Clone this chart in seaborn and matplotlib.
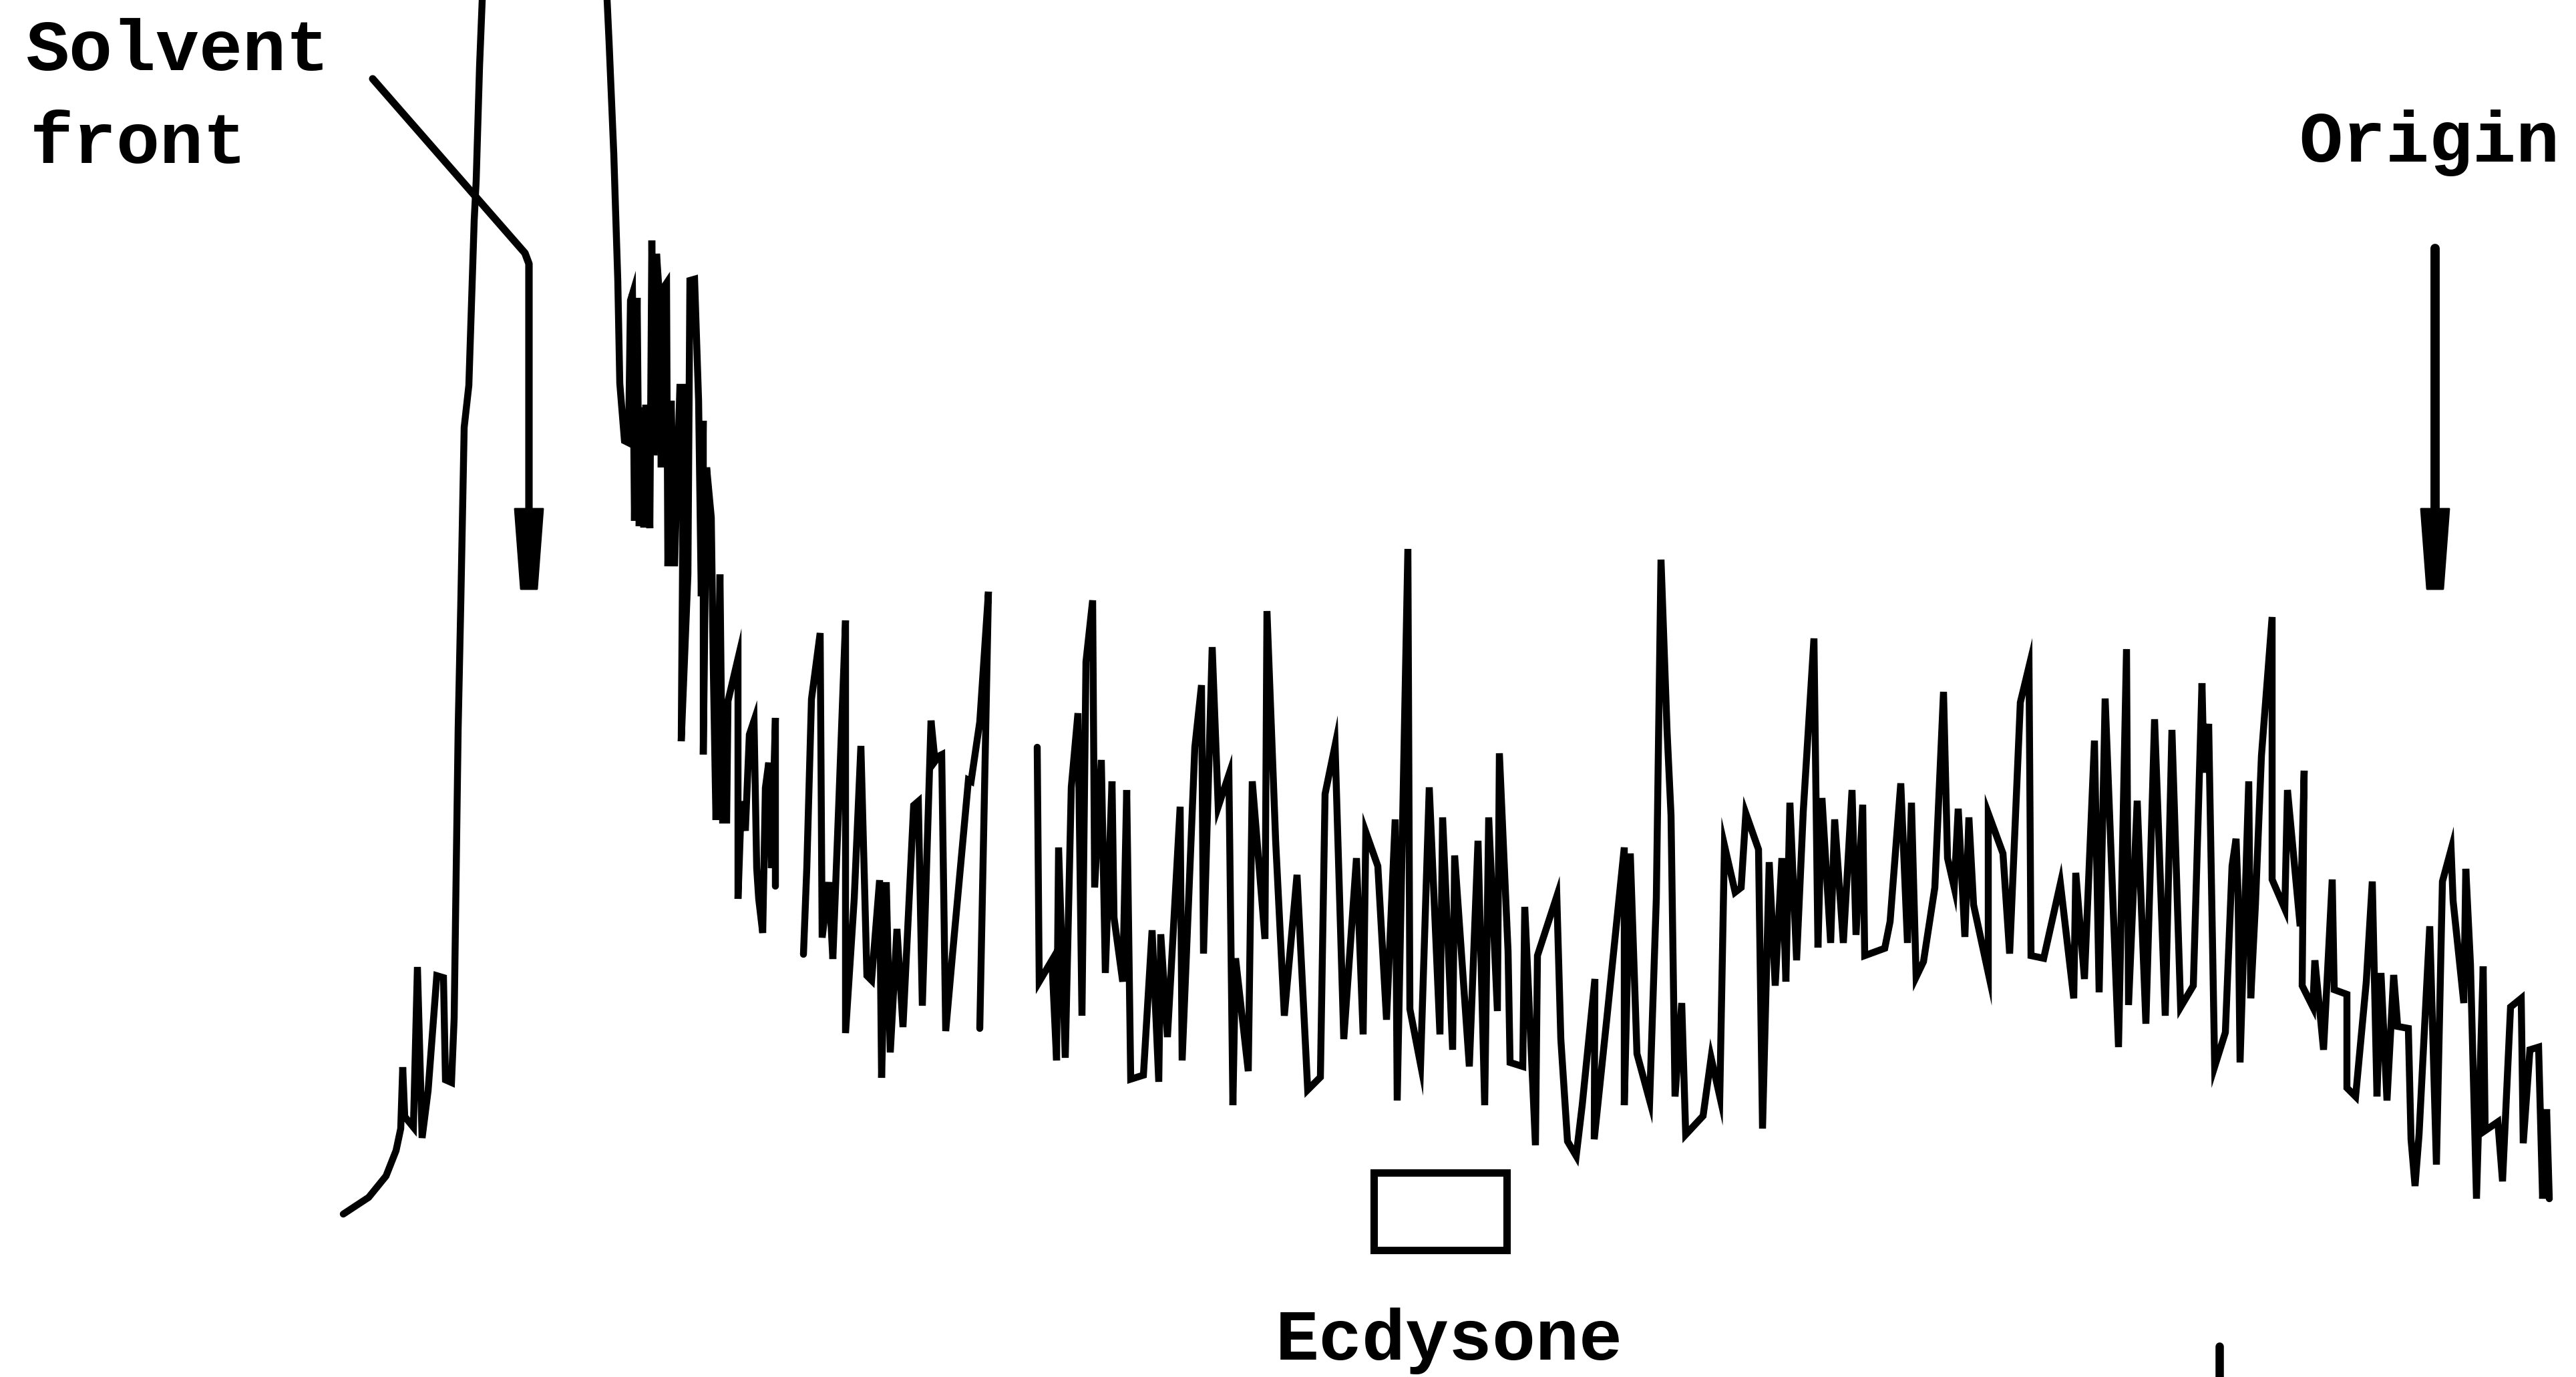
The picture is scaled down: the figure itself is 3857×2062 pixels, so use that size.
import numpy as np
import pandas as pd
import matplotlib
matplotlib.use("Agg")
import matplotlib.pyplot as plt
from matplotlib.patches import Polygon, Rectangle
import seaborn as sns

# Radio-scan of the chromatogram strip: position along the strip and pen
# deflection measured down from the top edge of the chart paper.
seg1_pos = [514, 552, 578, 593, 600, 603, 606, 619, 625, 632, 641, 654, 664, 667, 676, 680,
            686, 690, 695, 702, 710, 713, 718, 722, 816, 909, 912, 919, 925, 928, 935, 941,
            944, 947, 950, 954, 957, 960, 964, 967, 973, 976, 979, 983, 986, 990, 994, 998,
            1000, 1005, 1010, 1018, 1024, 1020, 1030, 1033, 1040, 1046, 1050, 1053, 1053, 1058,
            1065, 1068, 1072, 1078, 1082, 1088, 1090, 1105, 1105, 1110, 1116, 1122, 1129, 1133,
            1136, 1142, 1146, 1151, 1155, 1161, 1161]
seg1_defl = [1818, 1793, 1761, 1723, 1690, 1598, 1672, 1688, 1448, 1704, 1633, 1461, 1464, 1617,
             1621, 1525, 1091, 900, 640, 577, 330, 270, 100, 0, -900, 0, 64, 230, 420, 574, 660,
             663, 450, 440, 780, 446, 788, 610, 790, 606, 791, 360, 682, 380, 424, 700, 430, 424,
             848, 600, 848, 580, 580, 1110, 860, 420, 418, 600, 893, 630, 1130, 700, 775, 1000,
             1228, 860, 1228, 1228, 1050, 986, 1346, 1200, 1244, 1100, 1079, 1300, 1346, 1397,
             1180, 1142, 1300, 1075, 1327]

seg2_pos = [1203, 1208, 1215, 1228, 1231, 1241, 1247, 1256, 1266, 1266, 1279, 1289, 1298, 1305,
            1317, 1320, 1327, 1333, 1343, 1352, 1368, 1375, 1381, 1394, 1400, 1406, 1410, 1416,
            1426, 1450, 1454, 1467, 1480, 1467]
seg2_defl = [1429, 1300, 1047, 948, 1404, 1321, 1436, 1200, 929, 1547, 1346, 1117, 1461, 1468,
             1318, 1614, 1321, 1576, 1391, 1538, 1206, 1200, 1506, 1079, 1140, 1132, 1130, 1544,
             1431, 1168, 1170, 1081, 886, 1540]

seg3_pos = [1553, 1556, 1575, 1582, 1585, 1595, 1604, 1614, 1620, 1626, 1636, 1639, 1649, 1655,
            1665, 1668, 1681, 1687, 1693, 1712, 1725, 1735, 1738, 1748, 1767, 1770, 1789, 1799,
            1802, 1815, 1824, 1840, 1846, 1850, 1869, 1875, 1894, 1897, 1910, 1923, 1942, 1958,
            1977, 1984, 1999, 2012, 2031, 2041, 2045, 2063, 2076, 2089, 2092, 2108, 2111, 2127,
            2140, 2156, 2160, 2175, 2178, 2200, 2213, 2223, 2229, 2242, 2245, 2258, 2261, 2280,
            2283, 2299, 2302, 2331, 2337, 2347, 2360, 2369, 2388, 2387, 2406, 2432, 2432, 2441,
            2451, 2470, 2480, 2487, 2496, 2502, 2508, 2518, 2524, 2550, 2562, 2575, 2582, 2598,
            2607, 2614, 2633, 2639, 2649, 2658, 2668, 2674, 2680, 2690, 2700, 2716, 2722, 2728,
            2741, 2747, 2760, 2773, 2779, 2789, 2792, 2822, 2830, 2846, 2856, 2862, 2869, 2880,
            2897, 2910, 2916, 2926, 2932, 2942, 2948, 2955, 2977, 2977, 2999, 3009, 3025, 3038,
            3041, 3060, 3085, 3105, 3108, 3121, 3136, 3143, 3152, 3172, 3184, 3187, 3200, 3213,
            3226, 3242, 3252, 3265, 3284, 3287, 3297, 3300, 3307, 3316, 3332, 3342, 3348, 3351,
            3354, 3367, 3370, 3377, 3386, 3402, 3402, 3421, 3425, 3444, 3450, 3447, 3463, 3466,
            3479, 3492, 3495, 3514, 3514, 3527, 3543, 3552, 3559, 3565, 3574, 3584, 3590, 3606,
            3610, 3616, 3622, 3638, 3648, 3657, 3670, 3673, 3689, 3692, 3699, 3708, 3718, 3721,
            3740, 3747, 3759, 3775, 3778, 3788, 3801, 3807, 3813, 3817]
seg3_defl = [1119, 1470, 1438, 1588, 1269, 1584, 1179, 1068, 1521, 991, 899, 1329, 1138, 1457,
             1170, 1374, 1470, 1183, 1616, 1610, 1393, 1620, 1399, 1553, 1208, 1588, 1119, 1026,
             1428, 969, 1208, 1160, 1655, 1435, 1604, 1170, 1406, 915, 1259, 1521, 1310, 1632,
             1613, 1189, 1116, 1556, 1285, 1549, 1246, 1297, 1527, 1227, 1648, 822, 1511, 1594,
             1179, 1549, 1224, 1572, 1281, 1597, 1259, 1655, 1224, 1514, 1128, 1425, 1591, 1597,
             1358, 1715, 1431, 1342, 1556, 1709, 1731, 1655, 1466, 1706, 1524, 1269, 1655, 1278,
             1578, 1648, 1345, 838, 1093, 1221, 1642, 1502, 1699, 1671, 1584, 1642, 1266, 1336,
             1329, 1218, 1272, 1690, 1291, 1476, 1285, 1470, 1202, 1438, 1215, 956, 1419, 1195,
             1412, 1227, 1412, 1183, 1400, 1205, 1431, 1420, 1380, 1173, 1412, 1202, 1463, 1440,
             1329, 1036, 1285, 1329, 1211, 1403, 1224, 1355, 1457, 1218, 1278, 1428, 1052, 998,
             1431, 1435, 1323, 1495, 1307, 1466, 1109, 1486, 1046, 1568, 972, 1505, 1199, 1533,
             1077, 1521, 1093, 1508, 1476, 1374, 1023, 1157, 1084, 1597, 1546, 1297, 1256, 1336,
             1591, 1170, 1495, 1355, 1132, 924, 1317, 1361, 1183, 1387, 1154, 1476, 1508, 1438,
             1572, 1317, 1482, 1489, 1629, 1642, 1470, 1320, 1642, 1457, 1648, 1460, 1537, 1540,
             1706, 1776, 1699, 1387, 1744, 1320, 1272, 1349, 1502, 1301, 1444, 1795, 1447, 1693,
             1680, 1769, 1508, 1495, 1712, 1572, 1568, 1795, 1661, 1795]

segments = [(seg1_pos, seg1_defl), (seg2_pos, seg2_defl), (seg3_pos, seg3_defl)]
frames = [pd.DataFrame({"position": p, "deflection": d, "segment": i})
          for i, (p, d) in enumerate(segments)]
trace = pd.concat(frames, ignore_index=True)

# Marker positions on the strip
solvent_front_pos = 792
origin_pos = 3646
ecdysone_band = (2057, 2256)

W, H = 3857, 2062
sns.set_style("white")
plt.rcParams["font.family"] = ["Liberation Mono", "DejaVu Sans Mono"]
plt.rcParams["text.color"] = "black"

fig = plt.figure(figsize=(W / 100, H / 100), dpi=100)
ax = fig.add_axes([0, 0, 1, 1])

sns.lineplot(data=trace, x="position", y="deflection", units="segment",
             estimator=None, sort=False, color="black", linewidth=7.5,
             solid_joinstyle="miter", ax=ax, legend=False)

ax.set_xlim(0, W)
ax.set_ylim(H, 0)
ax.axis("off")


def head(x, top, tip):
    return Polygon([(x - 21, top), (x + 21, top), (x + 12, tip), (x - 12, tip)],
                   closed=True, facecolor="black", edgecolor="black", lw=2,
                   joinstyle="round")


label_kw = dict(fontsize=78, fontweight="bold", color="black", ha="left", va="baseline")

# Solvent front label, leader and arrow
ax.plot([558, 786, solvent_front_pos, solvent_front_pos], [118, 379, 395, 765],
        color="black", lw=8, solid_capstyle="round", solid_joinstyle="round")
ax.add_patch(head(solvent_front_pos, 762, 882))
ax.text(39, 105, "Solvent", **label_kw)
ax.text(45, 244, "front", **label_kw)

# Origin label and arrow
ax.plot([origin_pos, origin_pos], [372, 765], color="black", lw=10, solid_capstyle="round")
ax.add_patch(head(origin_pos, 762, 882))
ax.text(3442, 242, "Origin", **label_kw)

# Ecdysone reference band
ax.add_patch(Rectangle((ecdysone_band[0], 1756), ecdysone_band[1] - ecdysone_band[0], 116,
                       fill=False, edgecolor="black", lw=8))
ax.text(1910, 2036, "Ecdysone", **label_kw)

# Start of the next scan at the lower edge
ax.plot([3323, 3323], [2016, H], color="black", lw=9)

fig.savefig("out.png", dpi=100, facecolor="white")
